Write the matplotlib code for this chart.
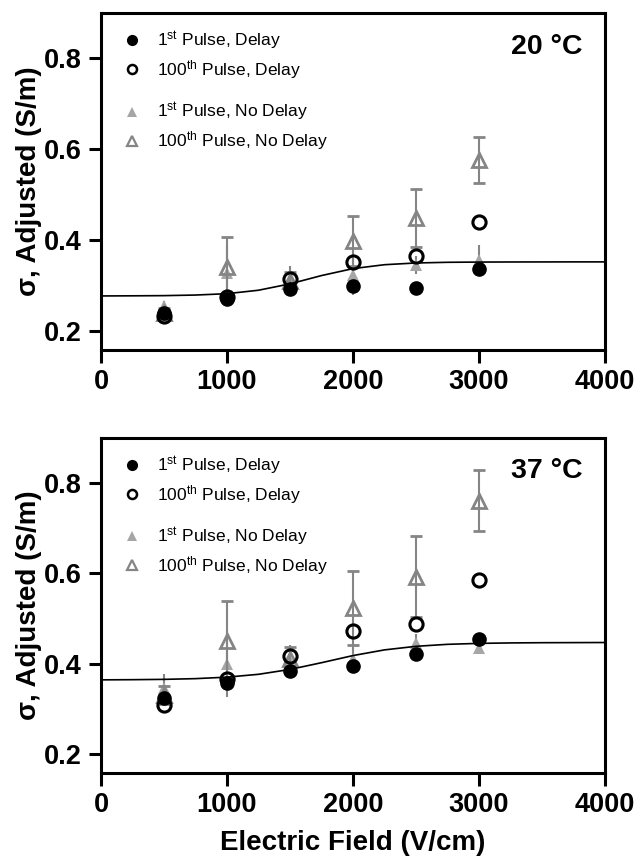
import matplotlib
matplotlib.use("Agg")
import matplotlib.pyplot as plt
from matplotlib.lines import Line2D

plt.rcParams['font.family'] = ['Liberation Sans', 'DejaVu Sans']
plt.rcParams['mathtext.fontset'] = 'custom'
plt.rcParams['mathtext.rm'] = 'Liberation Sans'
plt.rcParams['mathtext.it'] = 'Liberation Sans:italic'
plt.rcParams['mathtext.bf'] = 'Liberation Sans:bold'

# ---------------- data ----------------
field = [500, 1000, 1500, 2000, 2500, 3000]

# 20 °C
t20_first_delay = [0.240, 0.270, 0.292, 0.299, 0.295, 0.336]
t20_hund_delay = [0.232, 0.275, 0.314, 0.352, 0.365, 0.440]
t20_first_nodelay = [0.255, 0.327, 0.310, 0.323, 0.345, 0.356]
t20_first_nodelay_err = [0.010, 0.063, 0.033, 0.044, 0.020, 0.033]
t20_hund_nodelay = [0.240, 0.340, 0.310, 0.398, 0.448, 0.576]
t20_hund_nodelay_err = [0.010, 0.067, 0.020, 0.055, 0.064, 0.050]

# 37 °C
t37_first_delay = [0.324, 0.357, 0.383, 0.394, 0.421, 0.454]
t37_hund_delay = [0.308, 0.366, 0.417, 0.472, 0.487, 0.585]
t37_first_nodelay = [0.346, 0.399, 0.405, 0.410, 0.445, 0.434]
t37_first_nodelay_err = [0.031, 0.073, 0.037, 0.030, 0.020, 0.010]
t37_hund_nodelay = [0.330, 0.450, 0.410, 0.523, 0.593, 0.761]
t37_hund_nodelay_err = [0.020, 0.090, 0.026, 0.082, 0.090, 0.068]

# fitted curves
curve_x = [0, 250, 500, 750, 1000, 1250, 1500, 1750, 2000, 2250, 2500,
           2750, 3000, 3250, 3500, 3750, 4000]
t20_curve = [0.277, 0.2773, 0.2777, 0.279, 0.282, 0.2896, 0.3036, 0.3219,
             0.3372, 0.3458, 0.3496, 0.3511, 0.3516, 0.3518, 0.3519, 0.352, 0.352]
t37_curve = [0.3643, 0.3647, 0.3654, 0.367, 0.3703, 0.3766, 0.3874, 0.4023,
             0.4181, 0.4307, 0.4386, 0.443, 0.4451, 0.4461, 0.4466, 0.4468, 0.447]

x_ticks = [0, 1000, 2000, 3000, 4000]
y_ticks = [0.2, 0.4, 0.6, 0.8]
labels = [r'1$^{\mathrm{st}}$ Pulse, Delay', r'100$^{\mathrm{th}}$ Pulse, Delay',
          r'1$^{\mathrm{st}}$ Pulse, No Delay', r'100$^{\mathrm{th}}$ Pulse, No Delay']

LIGHT = '#a6a6a6'
DARK = '#858585'

fig = plt.figure(figsize=(6.34, 8.61), dpi=100)
ax_top = fig.add_axes([101/634, 1-350/861, 504/634, 337/861])
ax_bot = fig.add_axes([101/634, 1-773/861, 504/634, 335/861])

panels = [
    (ax_top, '20 °C', t20_first_delay, t20_hund_delay, t20_first_nodelay,
     t20_first_nodelay_err, t20_hund_nodelay, t20_hund_nodelay_err, t20_curve),
    (ax_bot, '37 °C', t37_first_delay, t37_hund_delay, t37_first_nodelay,
     t37_first_nodelay_err, t37_hund_nodelay, t37_hund_nodelay_err, t37_curve),
]

for (ax, title, fd, hd, fn, fne, hn, hne, curve) in panels:
    ax.errorbar(field, fn, yerr=fne, fmt='^', color=LIGHT, ecolor=DARK,
                elinewidth=1.5, capsize=4.5, capthick=1.5, markersize=8,
                markeredgewidth=0, zorder=2)
    ax.errorbar(field, hn, yerr=hne, fmt='^', color=DARK, ecolor=DARK,
                elinewidth=1.5, capsize=4.5, capthick=1.5, markersize=10,
                markerfacecolor='none', markeredgewidth=2.0, zorder=3)
    ax.plot(field, hd, 'o', markersize=9.5, markerfacecolor='none',
            markeredgecolor='black', markeredgewidth=2.2, zorder=4, linestyle='none')
    ax.plot(field, fd, 'o', markersize=9.5, color='black', zorder=5, linestyle='none')
    ax.plot(curve_x, curve, '-', color='black', linewidth=1.2, zorder=6)

    ax.set_xlim(0, 4000)
    ax.set_ylim(0.158, 0.9)
    ax.set_xticks(x_ticks)
    ax.set_yticks(y_ticks)
    ax.set_xticklabels([str(v) for v in x_ticks])
    ax.set_yticklabels([f'{v:.1f}' for v in y_ticks])
    for sp in ax.spines.values():
        sp.set_linewidth(2.2)
    ax.tick_params(axis='both', direction='out', length=9, width=2.2,
                   labelsize=19.5, pad=5)
    for lab in ax.get_xticklabels() + ax.get_yticklabels():
        lab.set_fontweight('bold')
    ax.set_ylabel('σ, Adjusted (S/m)', fontsize=20, fontweight='bold', labelpad=1)
    ax.text(0.955, 0.9, title, transform=ax.transAxes, ha='right', va='center',
            fontsize=20.5, fontweight='bold')

    h1 = Line2D([], [], marker='o', color='black', linestyle='none', markersize=7)
    h2 = Line2D([], [], marker='o', markerfacecolor='none', markeredgecolor='black',
                markeredgewidth=1.8, linestyle='none', markersize=6.5)
    h3 = Line2D([], [], marker='^', color=LIGHT, linestyle='none', markersize=7,
                markeredgewidth=0)
    h4 = Line2D([], [], marker='^', markerfacecolor='none', markeredgecolor=DARK,
                markeredgewidth=1.6, linestyle='none', markersize=6.5)
    leg1 = ax.legend([h1, h2], labels[:2], loc='center left',
                     bbox_to_anchor=(0.045, 0.875), frameon=False, fontsize=12.5,
                     handlelength=1.0, handletextpad=0.9, labelspacing=0.35,
                     borderpad=0, borderaxespad=0)
    ax.add_artist(leg1)
    ax.legend([h3, h4], labels[2:], loc='center left',
              bbox_to_anchor=(0.045, 0.663), frameon=False, fontsize=12.5,
              handlelength=1.0, handletextpad=0.9, labelspacing=0.35,
              borderpad=0, borderaxespad=0)

ax_bot.set_xlabel('Electric Field (V/cm)', fontsize=20, fontweight='bold', labelpad=8)

fig.savefig('out.png', dpi=100)
